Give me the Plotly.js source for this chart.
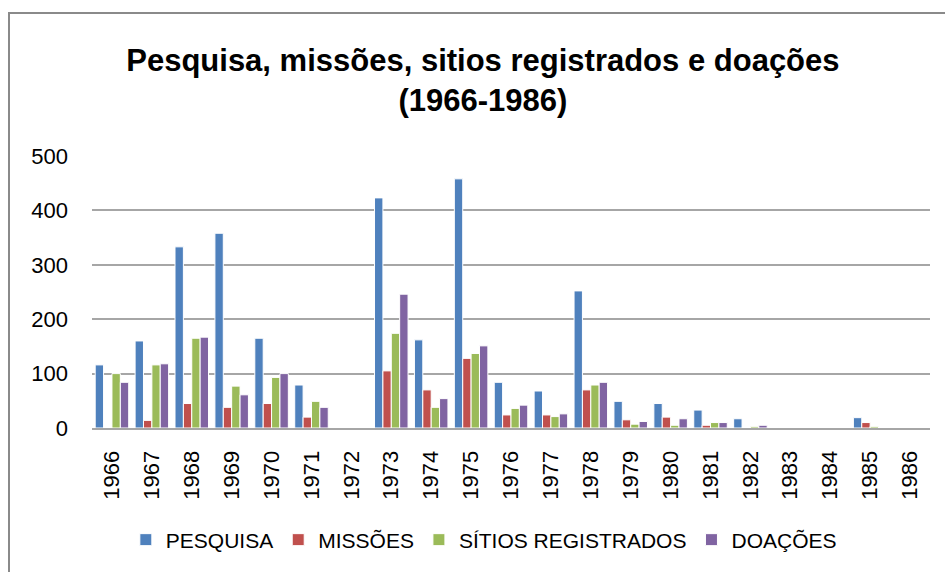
<!DOCTYPE html>
<html>
<head>
<meta charset="utf-8">
<script src="https://cdn.plot.ly/plotly-3.0.1.min.js"></script>
<style>
  html, body { margin: 0; padding: 0; background: #ffffff; }
  #wrap { position: relative; width: 945px; height: 572px; overflow: hidden; }
  #frame { position: absolute; left: 8px; top: 12px; width: 1000px; height: 1000px;
           border: 2px solid #8a8a8a; box-sizing: border-box; }
  #chart { position: absolute; left: 0; top: 0; width: 945px; height: 572px; }
</style>
</head>
<body>
<div id="wrap">
  <div id="frame"></div>
  <div id="chart"></div>
</div>
<script>
const years = ["1966","1967","1968","1969","1970","1971","1972","1973","1974","1975","1976",
               "1977","1978","1979","1980","1981","1982","1983","1984","1985","1986"];
const pesquisa = [116,160,333,358,165,79,0,423,162,458,84,68,252,49,45,33,17,0,0,19,0];
const missoes  = [0,14,45,38,45,20,0,105,70,128,24,24,70,15,20,5,0,0,0,10,0];
const sitios   = [100,116,165,77,93,49,0,174,38,137,36,21,79,7,5,10,3,0,0,3,0];
const doacoes  = [84,118,167,61,100,38,0,246,54,151,42,26,84,12,17,10,5,0,0,0,0];
const seriesNames = ["PESQUISA","MISSÕES","SÍTIOS REGISTRADOS","DOAÇÕES"];
const seriesColors = ["#4F81BD","#C0504D","#9BBB59","#8064A2"];
const seriesValues = [pesquisa, missoes, sitios, doacoes];

const traces = seriesValues.map((vals, i) => ({
  type: "bar",
  x: years,
  y: vals,
  name: seriesNames[i],
  marker: { color: seriesColors[i], line: { color: "#ffffff", width: 1 } },
  hoverinfo: "x+y+name"
}));

const font = "Liberation Sans, Arial, sans-serif";
const layout = {
  width: 945, height: 572,
  paper_bgcolor: "rgba(0,0,0,0)",
  plot_bgcolor: "rgba(0,0,0,0)",
  margin: { l: 92, r: 15, t: 156, b: 144 },
  barmode: "group",
  bargap: 0.16,
  bargroupgap: 0,
  title: {
    text: "<b>Pesquisa, missões, sitios registrados e doações<br>(1966-1986)</b>",
    font: { family: font, size: 31, color: "#000000" },
    x: 0.511, xanchor: "center", xref: "container",
    y: 1 - 71/572, yanchor: "middle", yref: "container"
  },
  xaxis: {
    type: "category",
    tickangle: -90,
    tickfont: { family: font, size: 22, color: "#000000" },
    showgrid: false,
    showline: true, linecolor: "#a6a6a6", linewidth: 2,
    ticks: "", ticklabelstandoff: 12,
    fixedrange: true
  },
  yaxis: {
    range: [0, 500],
    dtick: 100,
    tickfont: { family: font, size: 22, color: "#000000" },
    showgrid: true, gridcolor: "#a6a6a6", gridwidth: 2,
    zeroline: false,
    showline: false,
    ticks: "", ticklabelstandoff: 23,
    fixedrange: true
  },
  legend: {
    orientation: "h",
    xref: "container", yref: "container",
    x: 0.512, xanchor: "center",
    y: 1 - 540/572, yanchor: "middle",
    font: { family: font, size: 21, color: "#000000" },
    itemwidth: 30,
    traceorder: "normal"
  },
  showlegend: true
};

Plotly.newPlot("chart", traces, layout, { displayModeBar: false, staticPlot: true });
</script>
</body>
</html>
